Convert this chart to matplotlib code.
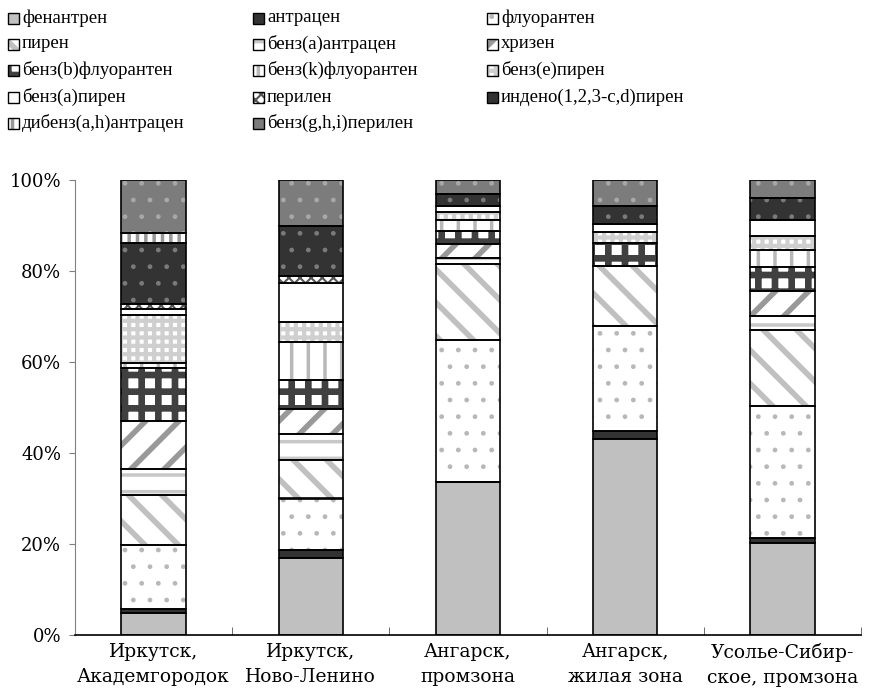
import matplotlib
matplotlib.use("Agg")
import matplotlib.pyplot as plt
from matplotlib.patches import Rectangle
import pandas as pd

plt.rcParams["font.family"] = ["DejaVu Serif"]

SITES = ["Иркутск,\nАкадемгородок", "Иркутск,\nНово-Ленино", "Ангарск,\nпромзона",
         "Ангарск,\nжилая зона", "Усолье-Сибир-\nское, промзона"]

COMPOUNDS = ["фенантрен", "антрацен", "флуорантен", "пирен", "бенз(a)антрацен", "хризен",
             "бенз(b)флуорантен", "бенз(k)флуорантен", "бенз(e)пирен", "бенз(a)пирен",
             "перилен", "индено(1,2,3-c,d)пирен", "дибенз(a,h)антрацен", "бенз(g,h,i)перилен"]

# share of each compound, %, same order as COMPOUNDS
akademgorodok = [4.9, 0.7, 14.2, 11.0, 5.6, 10.5, 11.8, 1.1, 10.4, 1.3, 1.1, 13.4, 2.3, 11.6]
novo_lenino   = [17.0, 1.7, 11.3, 8.5, 5.6, 5.5, 6.4, 8.5, 4.4, 8.4, 1.6, 11.0, 0.0, 10.1]
angarsk_prom  = [33.7, 0.0, 31.1, 16.7, 1.3, 3.2, 2.9, 2.35, 1.8, 1.25, 0.0, 2.6, 0.0, 3.1]
angarsk_zhil  = [42.9, 1.8, 22.9, 13.2, 0.0, 0.0, 5.1, 0.0, 2.5, 1.6, 0.0, 4.0, 0.0, 5.7]
usolye        = [20.2, 1.2, 29.0, 16.6, 3.1, 5.6, 5.3, 3.7, 3.1, 3.5, 0.0, 4.8, 0.0, 4.0]

# (facecolor, hatch, hatch colour, hatch linewidth) per compound
STYLES = [
    ("#c0c0c0", "", "#c0c0c0", 1.0),
    ("#333333", "", "#333333", 1.0),
    ("white", ".", "#b8b8b8", 1.0),
    ("white", "\\", "#c0c0c0", 4.0),
    ("white", "-", "#c8c8c8", 2.5),
    ("white", "/", "#999999", 4.0),
    ("white", "+", "#404040", 4.8),
    ("white", "|", "#b8b8b8", 2.5),
    ("white", "++", "#cfcfcf", 3.0),
    ("white", "", "white", 1.0),
    ("white", "xxx", "#555555", 1.5),
    ("#333333", ".", "#7a7a7a", 1.0),
    ("white", "||", "#999999", 2.5),
    ("#7c7c7c", ".", "#a8a8a8", 1.0),
]


def styled_rect(patch, style):
    face, hatch, hcol, hlw = style
    patch.set_facecolor(face)
    patch.set_hatch(hatch if hatch else None)
    patch.set_edgecolor(hcol)
    patch.set_linewidth(0)
    if hasattr(patch, "set_hatch_linewidth"):
        patch.set_hatch_linewidth(hlw)


def main():
    df = pd.DataFrame({"a": akademgorodok, "b": novo_lenino, "c": angarsk_prom,
                       "d": angarsk_zhil, "e": usolye}, index=COMPOUNDS)
    df = df / df.sum() * 100
    df.columns = SITES

    fig = plt.figure(figsize=(8.78, 6.97), dpi=100)
    ax = fig.add_axes([75 / 878, 1 - 635 / 697, 786 / 878, 455 / 697])

    x = range(len(SITES))
    bottom = [0.0] * len(SITES)
    width = 0.41
    for comp, style in zip(COMPOUNDS, STYLES):
        vals = df.loc[comp].values
        with plt.rc_context({"hatch.linewidth": style[3], "hatch.color": style[2]}):
            bars = ax.bar(x, vals, width, bottom=bottom, zorder=2)
            for b in bars:
                styled_rect(b, style)
        ax.bar(x, vals, width, bottom=bottom, fill=False, edgecolor="black",
               linewidth=1.2, zorder=3)
        bottom = [b0 + v for b0, v in zip(bottom, vals)]

    ax.set_xlim(-0.5, len(SITES) - 0.5)
    ax.set_ylim(0, 100)
    ax.set_yticks(range(0, 101, 20))
    ax.set_yticklabels([f"{v}%" for v in range(0, 101, 20)], fontsize=13)
    ax.set_xticks(list(x))
    ax.set_xticklabels(SITES, fontsize=13.5, linespacing=1.45)
    ax.set_xticks([i + 0.5 for i in x], minor=True)
    ax.tick_params(axis="x", which="major", length=0, pad=6)
    ax.tick_params(axis="x", which="minor", direction="in", length=6, color="#555555")
    ax.tick_params(axis="y", length=4, color="#808080", pad=6)
    for s in ("top", "right"):
        ax.spines[s].set_visible(False)
    ax.spines["left"].set_color("#808080")
    ax.spines["bottom"].set_linewidth(1.2)

    # legend, laid out row by row
    col_x = [8, 253, 487]
    row_y = [18, 44, 70, 97, 123]
    W, H = 878, 697
    for i, (comp, style) in enumerate(zip(COMPOUNDS, STYLES)):
        r, c = divmod(i, 3)
        x0, yc = col_x[c], row_y[r]
        with plt.rc_context({"hatch.linewidth": min(style[3], 1.5), "hatch.color": style[2]}):
            p = Rectangle((x0 / W, 1 - (yc + 5.5) / H), 11 / W, 11 / H,
                          transform=fig.transFigure)
            styled_rect(p, style)
            fig.add_artist(p)
        fig.add_artist(Rectangle((x0 / W, 1 - (yc + 5.5) / H), 11 / W, 11 / H,
                                 transform=fig.transFigure, fill=False,
                                 edgecolor="black", linewidth=1.0))
        fig.text((x0 + 14) / W, 1 - yc / H, comp, fontsize=13.5, va="center", ha="left",
                 family=["Liberation Serif"])

    fig.savefig("out.png", dpi=100)


if __name__ == "__main__":
    main()
